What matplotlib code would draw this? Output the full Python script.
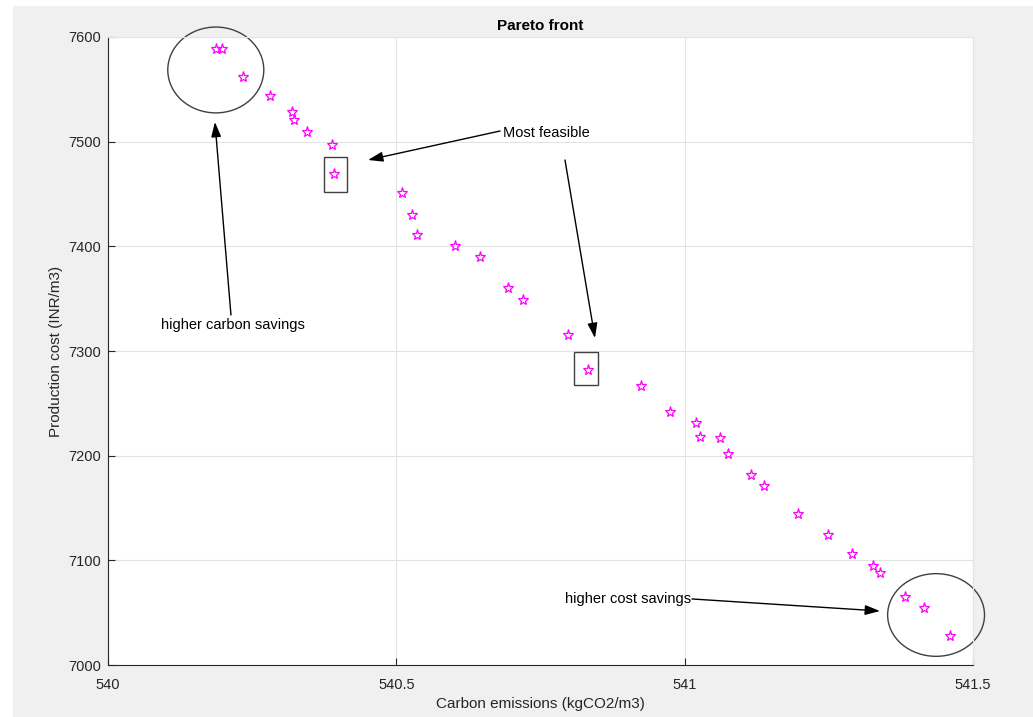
import matplotlib
matplotlib.use("Agg")
import matplotlib.pyplot as plt
from matplotlib.patches import Ellipse, Rectangle

plt.rcParams['font.family'] = ['Liberation Sans', 'DejaVu Sans']

# Pareto points
carbon = [540.187, 540.198, 540.235, 540.281, 540.320, 540.322, 540.346, 540.388,
          540.392, 540.510, 540.528, 540.536, 540.601, 540.645, 540.694, 540.720,
          540.798, 540.833, 540.924, 540.974, 541.019, 541.027, 541.062, 541.075,
          541.115, 541.137, 541.197, 541.248, 541.290, 541.327, 541.338, 541.382,
          541.415, 541.461]
cost = [7589, 7589, 7562, 7544, 7528, 7521, 7509, 7497,
        7469, 7451, 7430, 7411, 7400, 7390, 7360, 7349,
        7315, 7282, 7267, 7242, 7231, 7218, 7217, 7202,
        7182, 7171, 7144, 7124, 7106, 7095, 7088, 7065,
        7054, 7028]

x_ticks = [540, 540.5, 541, 541.5]
x_labels = ["540", "540.5", "541", "541.5"]
y_ticks = [7000, 7100, 7200, 7300, 7400, 7500, 7600]

fig = plt.figure(figsize=(10.33, 7.17), dpi=100, facecolor='#f0f0f0')
# white margin strips seen at the top and left of the screenshot
fig.patches.append(Rectangle((0, 1 - 6 / 717), 1, 6 / 717, transform=fig.transFigure,
                             facecolor='white', edgecolor='none'))
fig.patches.append(Rectangle((0, 0), 13 / 1033, 1, transform=fig.transFigure,
                             facecolor='white', edgecolor='none'))

ax = fig.add_axes([0.1045, 0.0725, 0.8374, 0.8759])
ax.set_facecolor('white')

ax.plot(carbon, cost, linestyle='none', marker='*', markersize=8,
        markerfacecolor='none', markeredgecolor='#ff00ff', markeredgewidth=0.9)

ax.set_xlim(540, 541.5)
ax.set_ylim(7000, 7600)
ax.set_xticks(x_ticks)
ax.set_xticklabels(x_labels)
ax.set_yticks(y_ticks)
ax.grid(True, color='#e3e3e3', linewidth=0.8)
ax.set_axisbelow(True)
ax.tick_params(direction='in', length=5, labelsize=10.5, colors='#262626')
ax.tick_params(axis='x', pad=9)
ax.tick_params(axis='y', pad=5)
for name, s in ax.spines.items():
    if name in ('left', 'bottom'):
        s.set_color('#262626')
    else:
        s.set_color('#e3e3e3')
    s.set_linewidth(0.8)

ax.set_title("Pareto front", fontsize=11, fontweight='bold', pad=5)
ax.set_xlabel("Carbon emissions (kgCO2/m3)", fontsize=11, color='#262626', labelpad=4)
ax.set_ylabel("Production cost (INR/m3)", fontsize=11, color='#262626', labelpad=4)

# highlighted regions
ax.add_patch(Ellipse((540.187, 7568.5), 0.1665, 82, fill=False,
                     edgecolor='#404040', linewidth=1, clip_on=False))
ax.add_patch(Ellipse((541.436, 7047.8), 0.168, 79, fill=False,
                     edgecolor='#404040', linewidth=1, clip_on=False))
ax.add_patch(Rectangle((540.374, 7452.2), 0.041, 33.4, fill=False,
                       edgecolor='#404040', linewidth=1))
ax.add_patch(Rectangle((540.809, 7267.5), 0.041, 31.8, fill=False,
                       edgecolor='#404040', linewidth=1))

arrow = dict(arrowstyle='-|>,head_length=0.9,head_width=0.3', color='black',
             linewidth=1, shrinkA=0, shrinkB=0)

ax.text(540.7595, 7508, "Most feasible", fontsize=10.5, ha='center', va='center')
ax.annotate("", xy=(540.451, 7482.5), xytext=(540.680, 7510.2), arrowprops=arrow)
ax.annotate("", xy=(540.8445, 7312.4), xytext=(540.7925, 7482.5), arrowprops=arrow)

ax.text(540.217, 7325, "higher carbon savings", fontsize=10.5, ha='center', va='center')
ax.annotate("", xy=(540.1855, 7518.8), xytext=(540.2133, 7334.4), arrowprops=arrow)

ax.text(540.9017, 7063, "higher cost savings", fontsize=10.5, ha='center', va='center')
ax.annotate("", xy=(541.3387, 7051.6), xytext=(541.0127, 7063.1), arrowprops=arrow)

fig.savefig("out.png", dpi=100, facecolor=fig.get_facecolor())
